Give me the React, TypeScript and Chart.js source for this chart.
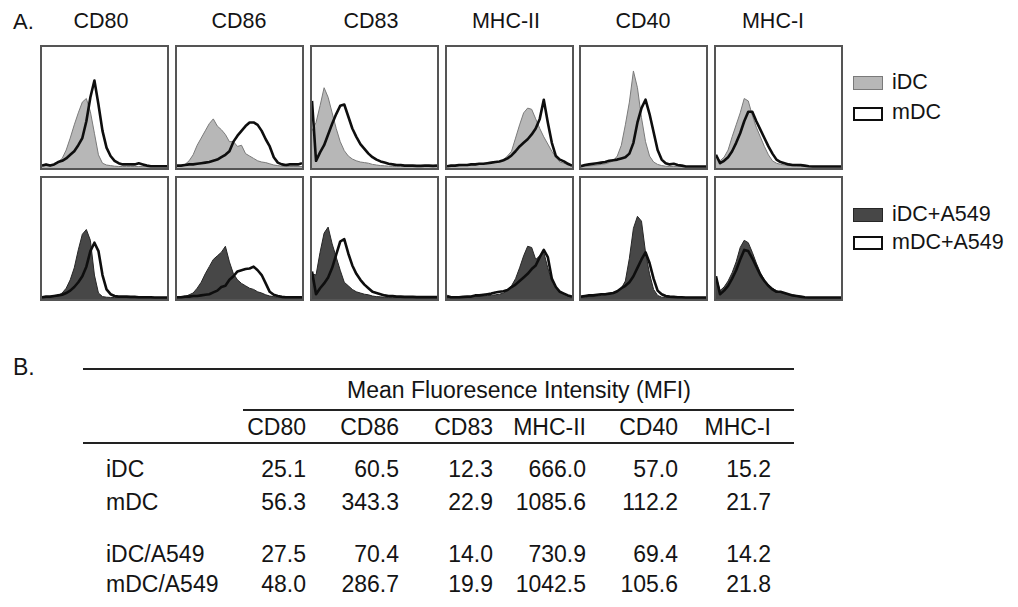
import React, { useEffect, useRef } from "react";
import { Chart, registerables } from "chart.js";

Chart.register(...registerables);

// ---------- Histogram data (percent of panel height per fluorescence bin) ----------
const bins = [
  0, 1, 2, 3, 4, 5, 6, 7, 8, 9, 10, 11, 12, 13, 14, 15,
  16, 17, 18, 19, 20, 21, 22, 23, 24, 25, 26, 27, 28, 29, 30, 31,
];

// CD80
const cd80_iDC = [0.5, 1, 1, 2, 4, 7, 14, 24, 35, 45, 54, 57, 46, 28, 10, 3, 1.5, 1, 0.5, 0.3, 0.2, 0.2, 0.2, 0.2, 0.2, 0.2, 0.2, 0.2, 0.2, 0.2, 0.2, 0.2];
const cd80_mDC = [1, 2, 1, 2, 4, 5, 7, 10, 13, 18, 24, 38, 58, 72, 52, 30, 16, 9, 5, 3, 2, 2, 2, 2, 3, 2, 1, 0.5, 0.5, 0.5, 0.5, 0.5];
const cd80_iDC_A549 = [0.5, 0.5, 1, 1, 2, 4, 8, 15, 25, 40, 53, 57, 48, 19, 4, 1, 0.5, 0.3, 0.3, 0.3, 0.3, 0.3, 0.3, 0.3, 0.3, 0.3, 0.3, 0.3, 0.3, 0.3, 0.3, 0.3];
const cd80_mDC_A549 = [0.5, 1, 1, 1.5, 2, 2.5, 4, 6, 9, 13, 18, 26, 39, 46, 39, 19, 7, 3, 1.5, 1, 1, 1, 0.8, 0.8, 0.5, 0.5, 0.5, 0.5, 0.3, 0.3, 0.3, 0.3];

// CD86
const cd86_iDC = [0.5, 1, 2, 5, 10, 18, 24, 30, 36, 40, 34, 31, 27, 21, 21, 17, 18, 11, 9, 7, 5, 4, 3.5, 2.5, 1.5, 1, 0.5, 0.2, 0.2, 0.2, 0.2, 0.2];
const cd86_mDC = [1, 1, 1.5, 2, 2, 2.5, 3, 3.5, 4, 5, 6, 8, 10, 13, 21, 26, 30, 34, 37, 37, 35, 30, 23, 17, 8, 3.5, 2, 1.5, 2, 2, 2, 3];
const cd86_iDC_A549 = [0.3, 0.5, 1, 2.5, 4, 8, 13, 20, 26, 32, 35, 38, 43, 30, 20, 15, 12, 10, 8, 7, 5, 4, 2.5, 1.5, 1, 0.5, 0.2, 0.2, 0.2, 0.2, 0.2, 0.2];
const cd86_mDC_A549 = [0.5, 0.5, 1, 1, 1.5, 1.5, 2, 2.5, 3, 4.5, 6, 9, 10, 15, 18, 22, 23, 24, 24.5, 26, 23, 19, 12, 5, 2.5, 1.5, 0.8, 0.5, 0.5, 0.5, 0.5, 0.5];

// CD83
const cd83_iDC = [30, 37, 51, 66, 58, 45, 32, 21, 13.5, 9, 6.5, 5, 4, 3.5, 3, 2, 1.5, 1, 0.8, 0.5, 0.3, 0.3, 0.3, 0.3, 0.3, 0.3, 0.3, 0.3, 0.3, 0.3, 0.3, 0.3];
const cd83_mDC = [55, 5, 12, 18, 27, 36, 44, 51, 52, 42, 32, 25, 19, 15, 11, 8, 6, 4.5, 3.5, 2.5, 2, 1.5, 1.5, 1, 1, 1, 0.8, 0.8, 1, 1, 0.8, 1];
const cd83_iDC_A549 = [20, 19, 38, 54, 59, 45, 34, 23, 13, 10, 7, 5, 4, 3, 2.5, 1.5, 1, 0.8, 0.4, 0.4, 0.4, 0.4, 0.4, 0.4, 0.4, 0.4, 0.4, 0.4, 0.4, 0.4, 0.4, 0.4];
const cd83_mDC_A549 = [22, 3, 8, 12, 17, 25, 36, 47, 49, 37, 27, 20, 15, 11, 8, 5, 4, 3, 2, 1.5, 1.5, 1, 1, 0.8, 0.8, 0.8, 0.6, 0.6, 0.6, 0.6, 0.6, 0.6];

// MHC-II
const mhc2_iDC = [0.3, 0.5, 0.5, 0.8, 1, 1, 1.5, 1.5, 2, 2.5, 3, 3.5, 4, 4.5, 6, 9, 13, 24, 35, 45, 49, 48, 40, 32, 25, 19, 13, 8, 4, 3, 1.5, 0.5];
const mhc2_mDC = [0.5, 1, 1, 1.5, 1.5, 1.5, 2, 2, 2.5, 2.5, 3, 3.5, 4, 4.5, 5.5, 7, 9.5, 13, 17, 20, 23, 27, 32, 40, 56, 37, 20, 9, 6, 4.5, 2.5, 1];
const mhc2_iDC_A549 = [0.2, 0.3, 0.3, 0.5, 0.5, 0.8, 1, 1.2, 1.5, 1.5, 2, 2, 2.5, 3, 4, 6, 10, 16, 25, 35, 43, 42, 32, 35, 38, 25, 14, 9, 5, 3, 1.5, 0.5];
const mhc2_mDC_A549 = [1.5, 0.5, 0.5, 0.5, 0.8, 1, 1, 2, 2, 2.5, 3, 3.5, 4.5, 5, 5.5, 6.5, 9, 11, 14, 17, 20, 24, 27, 34, 40, 34, 16, 9, 5, 3.5, 2, 1];

// CD40
const cd40_iDC = [0.3, 0.5, 0.8, 1, 1.5, 2, 2.5, 3.5, 5, 9, 18, 35, 54, 80, 66, 41, 21, 9, 4, 2, 1, 0.5, 0.2, 0.2, 0.2, 0.2, 0.2, 0.2, 0.2, 0.2, 0.2, 0.2];
const cd40_mDC = [0.5, 1.5, 2, 2.5, 3, 3.5, 4, 5, 5.5, 6, 7, 8, 11, 20, 37, 49, 56, 44, 29, 14, 6, 3, 2, 2.5, 1.5, 1, 0.3, 0.3, 0.3, 0.3, 0.3, 0.3];
const cd40_iDC_A549 = [0.5, 0.5, 1, 1, 1.5, 2, 2.5, 3, 4, 5.5, 8, 14, 33, 58, 68, 64, 38, 20, 7, 2, 0.5, 0.3, 0.3, 0.3, 0.3, 0.3, 0.3, 0.3, 0.3, 0.3, 0.3, 0.3];
const cd40_mDC_A549 = [1, 1.5, 2, 2, 2.5, 3, 3, 3.5, 4, 5.5, 8, 10, 13, 18, 25, 32, 38, 29, 16, 6, 3, 1.5, 1, 0.8, 0.5, 0.5, 0.3, 0.3, 0.3, 0.3, 0.3, 0.3];

// MHC-I
const mhc1_iDC = [10, 5, 8, 14, 25, 35, 45, 57, 55, 43, 33, 25, 17, 10, 5, 3, 2, 1.5, 1, 0.8, 0.5, 0.3, 0.3, 0.3, 0.3, 0.3, 0.3, 0.3, 0.3, 0.3, 0.3, 0.3];
const mhc1_mDC = [10, 3, 5, 8, 13, 20, 28, 38, 46, 46, 38, 31, 24, 17, 11, 6, 4, 3, 2, 1.5, 1.5, 1.5, 1, 0.5, 0.3, 0.3, 0.3, 0.3, 0.3, 0.3, 0.3, 0.3];
const mhc1_iDC_A549 = [18, 6, 9, 14, 21, 30, 42, 48, 46, 38, 29, 21, 15, 11, 8, 6, 4.5, 3.5, 2.5, 2, 1.5, 0.5, 0.2, 0.2, 0.2, 0.2, 0.2, 0.2, 0.2, 0.2, 0.2, 0.2];
const mhc1_mDC_A549 = [18, 3, 6, 10, 16, 23, 32, 40, 39, 33, 26, 19, 14, 10, 7, 5, 5, 4, 3, 2, 1.5, 1, 0.5, 0.2, 0.2, 0.2, 0.2, 0.2, 0.2, 0.2, 0.2, 0.2];

// ---------- Table data ----------
const markers = ["CD80", "CD86", "CD83", "MHC-II", "CD40", "MHC-I"];
const rowLabels = ["iDC", "mDC", "iDC/A549", "mDC/A549"];
const mfi_iDC = [25.1, 60.5, 12.3, 666.0, 57.0, 15.2];
const mfi_mDC = [56.3, 343.3, 22.9, 1085.6, 112.2, 21.7];
const mfi_iDC_A549 = [27.5, 70.4, 14.0, 730.9, 69.4, 14.2];
const mfi_mDC_A549 = [48.0, 286.7, 19.9, 1042.5, 105.6, 21.8];
const legendLabels = ["iDC", "mDC", "iDC+A549", "mDC+A549"];

// ---------- Layout / style ----------
const FONT = '"Liberation Sans", Arial, Helvetica, sans-serif';
const TEXT = "#141414";
const LIGHT_FILL = "#b7b7b7";
const LIGHT_EDGE = "#7a7a7a";
const DARK_FILL = "#474747";
const DARK_EDGE = "#262626";
const LINE = "#0e0e0e";

const colLeft = [40, 175, 310, 445, 579, 714];
const colTitleX = [101, 239, 371, 506, 643, 773];
const PANEL_W = 129;
const ROW_TOP = [45, 176];
const PANEL_H = 125;

const panelData = [
  [cd80_iDC, cd80_mDC, cd80_iDC_A549, cd80_mDC_A549],
  [cd86_iDC, cd86_mDC, cd86_iDC_A549, cd86_mDC_A549],
  [cd83_iDC, cd83_mDC, cd83_iDC_A549, cd83_mDC_A549],
  [mhc2_iDC, mhc2_mDC, mhc2_iDC_A549, mhc2_mDC_A549],
  [cd40_iDC, cd40_mDC, cd40_iDC_A549, cd40_mDC_A549],
  [mhc1_iDC, mhc1_mDC, mhc1_iDC_A549, mhc1_mDC_A549],
];

function Txt(props: { x: number; y: number; size: number; align?: string; children: any }) {
  const { x, y, size, align = "left", children } = props;
  const tx = align === "center" ? "-50%" : align === "right" ? "-100%" : "0";
  return (
    <div
      style={{
        position: "absolute",
        left: x,
        top: y - size / 2,
        fontSize: size,
        lineHeight: `${size}px`,
        whiteSpace: "nowrap",
        transform: `translateX(${tx})`,
        color: TEXT,
      }}
    >
      {children}
    </div>
  );
}

function Histogram(props: {
  left: number;
  top: number;
  filled: number[];
  line: number[];
  fillColor: string;
  edgeColor: string;
}) {
  const { left, top, filled, line, fillColor, edgeColor } = props;
  const ref = useRef<HTMLCanvasElement | null>(null);
  const W = PANEL_W - 4;
  const H = PANEL_H - 4;
  useEffect(() => {
    if (!ref.current) return;
    const chart = new Chart(ref.current, {
      type: "line",
      data: {
        labels: bins,
        datasets: [
          {
            data: line,
            borderColor: LINE,
            borderWidth: 2.6,
            borderJoinStyle: "round",
            fill: false,
            pointRadius: 0,
            tension: 0,
            order: 0,
          },
          {
            data: filled,
            borderColor: edgeColor,
            backgroundColor: fillColor,
            borderWidth: 1,
            fill: "start",
            pointRadius: 0,
            tension: 0,
            order: 1,
          },
        ],
      },
      options: {
        animation: false,
        responsive: false,
        maintainAspectRatio: false,
        devicePixelRatio: 1,
        events: [],
        layout: { padding: 0 },
        plugins: { legend: { display: false }, tooltip: { enabled: false } },
        scales: {
          x: { type: "category", display: false, offset: false },
          y: { display: false, min: -1, max: 100 },
        },
      },
    });
    return () => chart.destroy();
  }, [filled, line, fillColor, edgeColor]);
  return (
    <div
      style={{
        position: "absolute",
        left,
        top,
        width: PANEL_W,
        height: PANEL_H,
        border: "2px solid #555555",
        boxSizing: "border-box",
        background: "#fff",
      }}
    >
      <canvas ref={ref} width={W} height={H} style={{ display: "block", width: W, height: H }} />
    </div>
  );
}

export default function App() {
  const valueRight = [306, 399, 493, 586, 678, 771];
  const rowY = [469.5, 502, 554, 584];
  const rows = [mfi_iDC, mfi_mDC, mfi_iDC_A549, mfi_mDC_A549];
  const legendY = [83, 113, 215, 243];
  const legendBoxTop = [76, 107, 208, 236];
  const legendBox = [
    { bg: LIGHT_FILL, border: `1.5px solid ${LIGHT_EDGE}` },
    { bg: "#fff", border: `2px solid ${LINE}` },
    { bg: DARK_FILL, border: `1.5px solid ${DARK_EDGE}` },
    { bg: "#fff", border: `2px solid ${LINE}` },
  ];
  return (
    <div
      style={{
        position: "fixed",
        left: 0,
        top: 0,
        width: 1018,
        height: 607,
        background: "#fff",
        fontFamily: FONT,
        overflow: "hidden",
      }}
    >
      <Txt x={13} y={22} size={22}>A.</Txt>
      {markers.map((m, i) => (
        <Txt key={"t" + m} x={colTitleX[i]} y={22} size={21.5} align="center">
          {m}
        </Txt>
      ))}
      {panelData.map((d, i) => (
        <React.Fragment key={"p" + i}>
          <Histogram
            left={colLeft[i]}
            top={ROW_TOP[0]}
            filled={d[0]}
            line={d[1]}
            fillColor={LIGHT_FILL}
            edgeColor={LIGHT_EDGE}
          />
          <Histogram
            left={colLeft[i]}
            top={ROW_TOP[1]}
            filled={d[2]}
            line={d[3]}
            fillColor={DARK_FILL}
            edgeColor={DARK_EDGE}
          />
        </React.Fragment>
      ))}
      {legendLabels.map((l, i) => (
        <React.Fragment key={"l" + l}>
          <div
            style={{
              position: "absolute",
              left: 853,
              top: legendBoxTop[i],
              width: 30,
              height: 14,
              boxSizing: "border-box",
              background: legendBox[i].bg,
              border: legendBox[i].border,
            }}
          />
          <Txt x={892} y={legendY[i]} size={21.5}>
            {l}
          </Txt>
        </React.Fragment>
      ))}

      <Txt x={13} y={367} size={23}>B.</Txt>
      <div style={{ position: "absolute", left: 83, top: 368, width: 711, height: 2, background: "#222" }} />
      <Txt x={519} y={390} size={23} align="center">
        Mean Fluoresence Intensity (MFI)
      </Txt>
      <div style={{ position: "absolute", left: 243, top: 409, width: 551, height: 2, background: "#222" }} />
      {markers.map((m, i) => (
        <Txt key={"h" + m} x={valueRight[i]} y={427} size={23} align="right">
          {m}
        </Txt>
      ))}
      <div style={{ position: "absolute", left: 83, top: 442, width: 711, height: 2, background: "#222" }} />
      {rowLabels.map((r, ri) => (
        <React.Fragment key={"r" + r}>
          <Txt x={106} y={rowY[ri]} size={23}>
            {r}
          </Txt>
          {rows[ri].map((v, ci) => (
            <Txt key={"v" + ri + "-" + ci} x={valueRight[ci]} y={rowY[ri]} size={23} align="right">
              {v.toFixed(1)}
            </Txt>
          ))}
        </React.Fragment>
      ))}
    </div>
  );
}
